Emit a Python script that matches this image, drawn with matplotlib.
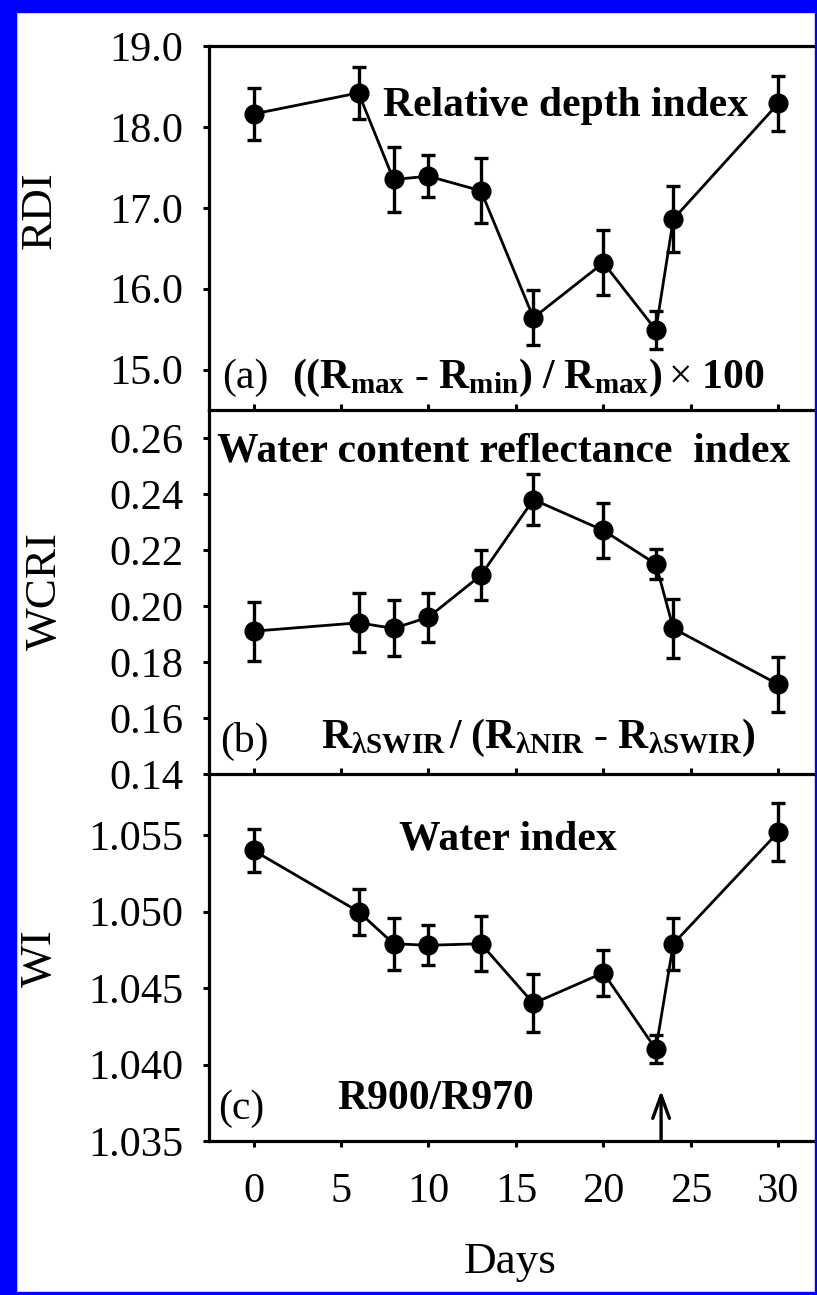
import matplotlib
matplotlib.use("Agg")
import matplotlib.pyplot as plt
from matplotlib.patches import Rectangle

plt.rcParams['font.family'] = ['Liberation Serif', 'DejaVu Serif']
plt.rcParams['mathtext.fontset'] = 'custom'
plt.rcParams['mathtext.rm'] = 'Liberation Serif'
plt.rcParams['mathtext.bf'] = 'Liberation Serif:bold'
plt.rcParams['mathtext.it'] = 'Liberation Serif:italic'

# ---- data ----
days = [0, 6, 8, 10, 13, 16, 20, 23, 24, 30]

rdi = [18.16, 18.42, 17.35, 17.39, 17.21, 15.64, 16.32, 15.49, 16.86, 18.29]
rdi_err = [0.32, 0.32, 0.40, 0.26, 0.40, 0.34, 0.40, 0.23, 0.41, 0.34]

wcri = [0.191, 0.194, 0.192, 0.196, 0.211, 0.238, 0.227, 0.215, 0.192, 0.172]
wcri_err = [0.0105, 0.0105, 0.0100, 0.0088, 0.0090, 0.0092, 0.0097, 0.0053, 0.0104, 0.0097]

wi = [1.0540, 1.0500, 1.0479, 1.0478, 1.0479, 1.0440, 1.0460, 1.0410, 1.0479, 1.0552]
wi_err = [0.0014, 0.0015, 0.0017, 0.0013, 0.0018, 0.0019, 0.0015, 0.0009, 0.0017, 0.0019]

x_ticks = [0, 5, 10, 15, 20, 25, 30]
rdi_ticks = [15.0, 16.0, 17.0, 18.0, 19.0]
rdi_ticklabels = ["15.0", "16.0", "17.0", "18.0", "19.0"]
wcri_ticks = [0.14, 0.16, 0.18, 0.20, 0.22, 0.24, 0.26]
wcri_ticklabels = ["0.14", "0.16", "0.18", "0.20", "0.22", "0.24", "0.26"]
wi_ticks = [1.035, 1.040, 1.045, 1.050, 1.055]
wi_ticklabels = ["1.035", "1.040", "1.045", "1.050", "1.055"]
arrow_day = 23.3

W, H = 817, 1295
fig = plt.figure(figsize=(W / 100, H / 100), dpi=100)
fig.patch.set_facecolor('white')

left = 209 / W
width = (815 - 209) / W

def fy(p):
    return 1 - p / H

axA = fig.add_axes([left, fy(410), width, (410 - 46) / H])
axB = fig.add_axes([left, fy(774), width, (774 - 410) / H])
axC = fig.add_axes([left, fy(1141), width, (1141 - 774) / H])
for ax in (axA, axB, axC):
    ax.set_facecolor('none')

TICK_FS = 30.5
TXT_FS = 30
LAB_FS = 32.5

def style(ax, ylim, yt, ytl, bottom_labels, top_spine):
    ax.set_xlim(-2.55, 32.1)
    ax.set_ylim(*ylim)
    ax.set_yticks(yt)
    ax.set_yticklabels(ytl, fontsize=TICK_FS)
    ax.set_xticks(x_ticks)
    ax.spines['right'].set_visible(False)
    ax.spines['top'].set_visible(top_spine)
    for s in ['left', 'bottom', 'top']:
        ax.spines[s].set_linewidth(2.3)
    ax.tick_params(axis='y', direction='out', length=4.5, width=2.2, pad=14)
    if bottom_labels:
        ax.tick_params(axis='x', direction='out', length=4, width=2.2, pad=19,
                       labelsize=TICK_FS)
    else:
        ax.tick_params(axis='x', direction='in', length=4, width=2.2,
                       labelbottom=False)

def plot_series(ax, y, e):
    ax.errorbar(days, y, yerr=e, fmt='-o', color='black', lw=2.0,
                markersize=13.5, elinewidth=2.4, capsize=5, capthick=2.4,
                clip_on=False, zorder=3)

plot_series(axA, rdi, rdi_err)
plot_series(axB, wcri, wcri_err)
plot_series(axC, wi, wi_err)

style(axA, (14.5, 19.0), rdi_ticks, rdi_ticklabels, False, True)
style(axB, (0.14, 0.27), wcri_ticks, wcri_ticklabels, False, False)
style(axC, (1.035, 1.059), wi_ticks, wi_ticklabels, True, False)

def px_text(xp, yp, s, **kw):
    fig.text(xp / W, fy(yp), s, **kw)

# panel a
px_text(566, 116, "Relative depth index", fontsize=TXT_FS, fontweight='bold',
        ha='center', va='baseline')
px_text(222, 388, "(a)", fontsize=TXT_FS, ha='left', va='baseline')
px_text(292, 388, r"$\mathbf{((R_{max}\ \text{-}\ R_{min})\ /\ R_{max})}$",
        fontsize=TXT_FS, ha='left', va='baseline')
px_text(765, 388, r"$\times$ $\mathbf{100}$", fontsize=TXT_FS, ha='right', va='baseline')

# panel b
px_text(504, 462, "Water content reflectance  index", fontsize=TXT_FS,
        fontweight='bold', ha='center', va='baseline')
px_text(220, 752, "(b)", fontsize=TXT_FS, ha='left', va='baseline')
px_text(321, 748,
        r"$\mathbf{R_{λSWIR}\,/\ (R_{λNIR}\ \text{-}\ R_{λSWIR})}$",
        fontsize=TXT_FS, ha='left', va='baseline')

# panel c
px_text(508, 850, "Water index", fontsize=TXT_FS, fontweight='bold',
        ha='center', va='baseline')
px_text(218, 1119, "(c)", fontsize=TXT_FS, ha='left', va='baseline')
px_text(337, 1109, "R900/R970", fontsize=TXT_FS, fontweight='bold',
        ha='left', va='baseline')

axC.annotate('', xy=(arrow_day, 1.0383), xytext=(arrow_day, 1.035),
             arrowprops=dict(arrowstyle='->,head_length=0.55,head_width=0.2',
                             lw=2.4, color='black', mutation_scale=30,
                             shrinkA=0, shrinkB=0))

# y labels
fig.text(40 / W, fy(210), "RDI", rotation=90, fontsize=LAB_FS, ha='center', va='center')
fig.text(45 / W, fy(591), "WCRI", rotation=90, fontsize=LAB_FS, ha='center', va='center')
fig.text(40 / W, fy(958), "WI", rotation=90, fontsize=LAB_FS, ha='center', va='center')
# x label
fig.text(510 / W, fy(1262), "Days", fontsize=LAB_FS, ha='center', va='center')

# blue frame
blue = (0, 0, 1)
fig.patches.append(Rectangle((0, 0), 16 / W, 1, transform=fig.transFigure,
                             color=blue, zorder=10))
fig.patches.append(Rectangle((0, 1 - 12 / H), 1, 12 / H, transform=fig.transFigure,
                             color=blue, zorder=10))
fig.patches.append(Rectangle((1 - 2.5 / W, 0), 2.5 / W, 1, transform=fig.transFigure,
                             color=blue, zorder=10))
fig.patches.append(Rectangle((0, 0), 1, 3 / H, transform=fig.transFigure,
                             color=blue, zorder=10))

fig.savefig("out.png", dpi=100)
